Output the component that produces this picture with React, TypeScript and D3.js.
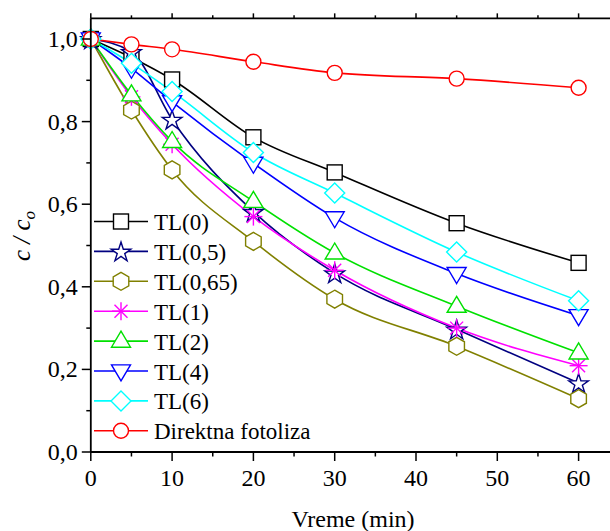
import React, { useEffect, useRef } from "react";
import * as d3 from "d3";

const times = [0, 5, 10, 20, 30, 45, 60];
const xTicks = [0, 10, 20, 30, 40, 50, 60];
const xMinor = [5, 15, 25, 35, 45, 55, 65];
const yTicks = [0, 0.2, 0.4, 0.6, 0.8, 1.0];
const yMinor = [0.1, 0.3, 0.5, 0.7, 0.9];
const yTickLabels = ["0,0", "0,2", "0,4", "0,6", "0,8", "1,0"];

const seriesNames = ["TL(0)", "TL(0,5)", "TL(0,65)", "TL(1)", "TL(2)", "TL(4)", "TL(6)", "Direktna fotoliza"];
const seriesColors = ["#000000", "#000080", "#808000", "#FF00FF", "#00E000", "#0000FF", "#00FFFF", "#FF0000"];
const seriesSymbols = ["square", "star", "hexagon", "asterisk", "triangle", "triangleDown", "diamond", "circle"];

const tl0 = [1.0, 0.955, 0.902, 0.762, 0.677, 0.554, 0.458];
const tl05 = [1.0, 0.969, 0.805, 0.582, 0.433, 0.297, 0.167];
const tl065 = [1.0, 0.828, 0.683, 0.51, 0.37, 0.256, 0.129];
const tl1 = [1.0, 0.86, 0.745, 0.57, 0.44, 0.3, 0.209];
const tl2 = [1.0, 0.865, 0.752, 0.607, 0.482, 0.353, 0.24];
const tl4 = [1.0, 0.929, 0.848, 0.699, 0.567, 0.432, 0.33];
const tl6 = [1.0, 0.941, 0.873, 0.725, 0.627, 0.484, 0.366];
const direct = [1.0, 0.987, 0.975, 0.945, 0.918, 0.904, 0.882];

const seriesValues = [tl0, tl05, tl065, tl1, tl2, tl4, tl6, direct];

const W = 610;
const H = 531;
const x = d3.scaleLinear().domain([0, 65]).range([90.8, 90.8 + 65 * 8.13]);
const y = d3.scaleLinear().domain([0, 1.05]).range([452, 452 - 1.05 * 413]);

const legendX1 = 94;
const legendX2 = 148;
const legendY0 = 221.5;
const legendStep = 29.9;
const F = "Liberation Serif";

function Marker({ type, cx, cy, color }: { type: string; cx: number; cy: number; color: string }) {
  const sw = 1.4;
  const common = { fill: "#fff", stroke: color, strokeWidth: sw };
  if (type === "square") {
    return <rect x={cx - 7.5} y={cy - 7.5} width={15} height={15} {...common} />;
  }
  if (type === "circle") {
    return <circle cx={cx} cy={cy} r={7.5} {...common} />;
  }
  if (type === "star") {
    const p = d3.symbol(d3.symbolStar, 120)();
    return <path d={p || ""} transform={`translate(${cx},${cy + 1})`} {...common} />;
  }
  if (type === "hexagon") {
    const r = 9;
    const pts = d3.range(6).map((i) => {
      const a = (Math.PI / 3) * i - Math.PI / 2;
      return [cx + r * Math.cos(a), cy + r * Math.sin(a)];
    });
    return <polygon points={pts.map((p) => p.join(",")).join(" ")} {...common} />;
  }
  if (type === "triangle") {
    const h = 16;
    const w = 19;
    const pts = [[cx, cy - h * 0.62], [cx + w / 2, cy + h * 0.38], [cx - w / 2, cy + h * 0.38]];
    return <polygon points={pts.map((p) => p.join(",")).join(" ")} {...common} />;
  }
  if (type === "triangleDown") {
    const h = 16;
    const w = 19;
    const pts = [[cx, cy + h * 0.62], [cx + w / 2, cy - h * 0.38], [cx - w / 2, cy - h * 0.38]];
    return <polygon points={pts.map((p) => p.join(",")).join(" ")} {...common} />;
  }
  if (type === "diamond") {
    const r = 10;
    const pts = [[cx, cy - r], [cx + r, cy], [cx, cy + r], [cx - r, cy]];
    return <polygon points={pts.map((p) => p.join(",")).join(" ")} {...common} />;
  }
  if (type === "asterisk") {
    const r = 9;
    const d = r * 0.72;
    return (
      <g stroke={color} strokeWidth={sw}>
        <line x1={cx - r} y1={cy} x2={cx + r} y2={cy} />
        <line x1={cx} y1={cy - r} x2={cx} y2={cy + r} />
        <line x1={cx - d} y1={cy - d} x2={cx + d} y2={cy + d} />
        <line x1={cx - d} y1={cy + d} x2={cx + d} y2={cy - d} />
      </g>
    );
  }
  return null;
}

export default function App() {
  const textRef = useRef<SVGGElement | null>(null);

  const line = d3
    .line<number>()
    .x((_, i) => x(times[i]))
    .y((v) => y(v))
    .curve(d3.curveMonotoneX);

  const x0 = x(0);
  const yBottom = y(0);
  const yTop = y(1.05);

  useEffect(() => {
    if (!textRef.current) return;
    const g = d3.select(textRef.current);
    g.selectAll("*").remove();

    g.selectAll("text.xt")
      .data(xTicks)
      .enter()
      .append("text")
      .attr("class", "xt")
      .attr("x", (d) => x(d))
      .attr("y", yBottom + 34)
      .attr("text-anchor", "middle")
      .attr("font-size", 24)
      .attr("fill", "#000")
      .text((d) => String(d));

    g.selectAll("text.yt")
      .data(yTicks)
      .enter()
      .append("text")
      .attr("class", "yt")
      .attr("x", x0 - 13)
      .attr("y", (d) => y(d) + 8)
      .attr("text-anchor", "end")
      .attr("font-size", 24)
      .attr("fill", "#000")
      .text((_, i) => yTickLabels[i]);

    g.append("text")
      .attr("x", 353)
      .attr("y", 527)
      .attr("text-anchor", "middle")
      .attr("font-size", 24)
      .attr("fill", "#000")
      .text("Vreme (min)");

    const yl = g
      .append("text")
      .attr("transform", "translate(30,236) rotate(-90)")
      .attr("text-anchor", "middle")
      .attr("font-size", 25)
      .attr("font-style", "italic")
      .attr("fill", "#000");
    yl.append("tspan").text("c / c");
    yl.append("tspan").attr("font-size", 17).attr("dy", 5).text("o");

    g.selectAll("text.lg")
      .data(seriesNames)
      .enter()
      .append("text")
      .attr("class", "lg")
      .attr("x", 154)
      .attr("y", (_, i) => legendY0 + i * legendStep + 8.5)
      .attr("font-size", 23)
      .attr("fill", "#000")
      .text((d) => d);

    g.selectAll("text, tspan")
      .attr("font-family", F)
      .style("font-family", F, "important");
  }, []);

  return (
    <svg width={W} height={H} style={{ position: "absolute", left: 0, top: 0, background: "#fff" }}>
      <style>{`svg text, svg tspan { font-family: "Liberation Serif", serif !important; }`}</style>
      <rect x={0} y={0} width={W} height={H} fill="#fff" />
      {seriesValues.map((vals, si) => (
        <path key={"l" + si} d={line(vals) || ""} fill="none" stroke={seriesColors[si]} strokeWidth={1.6} />
      ))}
      {seriesValues.map((vals, si) => (
        <g key={"m" + si}>
          {vals.map((v, i) => (
            <Marker key={i} type={seriesSymbols[si]} cx={x(times[i])} cy={y(v)} color={seriesColors[si]} />
          ))}
        </g>
      ))}

      <line x1={x0} y1={yTop} x2={x0} y2={yBottom} stroke="#000" strokeWidth={1.8} />
      <line x1={x0} y1={yBottom} x2={W + 5} y2={yBottom} stroke="#000" strokeWidth={1.8} />
      <line x1={x0} y1={yTop} x2={W + 5} y2={yTop} stroke="#000" strokeWidth={1.8} />

      {xTicks.map((t) => (
        <g key={"xt" + t}>
          <line x1={x(t)} y1={yBottom} x2={x(t)} y2={yBottom + 9} stroke="#000" strokeWidth={1.5} />
          <line x1={x(t)} y1={yTop} x2={x(t)} y2={yTop - 5} stroke="#000" strokeWidth={1.5} />
        </g>
      ))}
      {xMinor.map((t) => (
        <g key={"xm" + t}>
          <line x1={x(t)} y1={yBottom} x2={x(t)} y2={yBottom + 4.5} stroke="#000" strokeWidth={1.5} />
          <line x1={x(t)} y1={yTop} x2={x(t)} y2={yTop - 3} stroke="#000" strokeWidth={1.5} />
        </g>
      ))}
      {yTicks.map((t, i) => (
        <line key={"yt" + i} x1={x0 - 9} y1={y(t)} x2={x0} y2={y(t)} stroke="#000" strokeWidth={1.5} />
      ))}
      {yMinor.map((t, i) => (
        <line key={"ym" + i} x1={x0 - 4.5} y1={y(t)} x2={x0} y2={y(t)} stroke="#000" strokeWidth={1.5} />
      ))}

      {seriesNames.map((name, si) => {
        const ly = legendY0 + si * legendStep;
        return (
          <g key={"lg" + si}>
            <line x1={legendX1} y1={ly} x2={legendX2} y2={ly} stroke={seriesColors[si]} strokeWidth={1.6} />
            <Marker type={seriesSymbols[si]} cx={(legendX1 + legendX2) / 2} cy={ly} color={seriesColors[si]} />
          </g>
        );
      })}
      <g ref={textRef} />
    </svg>
  );
}
